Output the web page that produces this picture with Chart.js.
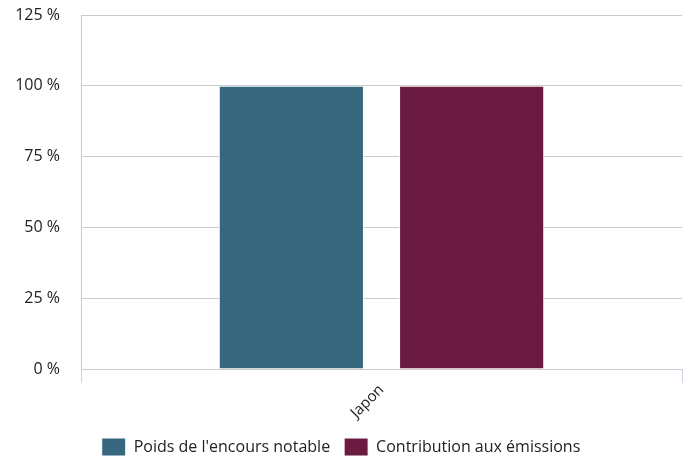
<!DOCTYPE html>
<html>
<head>
<meta charset="utf-8">
<script src="https://cdn.jsdelivr.net/npm/chart.js@4"></script>
<style>
  html, body { margin: 0; padding: 0; background: #fff; overflow: hidden; }
  #wrap { width: 690px; height: 466px; }
</style>
</head>
<body>
<div id="wrap"><canvas id="chart"></canvas></div>
<script>
const categories = ['Japon'];
const poidsEncours = [100];
const contributionEmissions = [100];
const yTicks = [0, 25, 50, 75, 100, 125];

const ctx = document.getElementById('chart').getContext('2d');
const chart = new Chart(ctx, {
    type: 'bar',
    data: {
        labels: categories,
        datasets: [
            {
                label: "Poids de l'encours notable",
                data: poidsEncours,
                backgroundColor: '#37677e',
                borderColor: '#ffffff',
                borderWidth: 1,
                categoryPercentage: 0.6,
                barPercentage: 0.805
            },
            {
                label: 'Contribution aux émissions',
                data: contributionEmissions,
                backgroundColor: '#6b1a40',
                borderColor: '#ffffff',
                borderWidth: 1,
                categoryPercentage: 0.6,
                barPercentage: 0.805
            }
        ]
    },
    options: {
        responsive: true,
        maintainAspectRatio: false,
        animation: false,
        layout: { padding: { top: 15, right: 8, left: 0, bottom: 0 } },
        plugins: {
            tooltip: { enabled: false },
            legend: {
                position: 'bottom',
                labels: {
                    color: '#222',
                    font: { family: 'Open Sans', size: 16 },
                    boxWidth: 24,
                    boxHeight: 18,
                    padding: 14
                }
            }
        },
        scales: {
            x: {
                afterFit: (axis) => { axis.height = 55; },
                grid: {
                    display: true,
                    drawOnChartArea: false,
                    drawTicks: true,
                    tickLength: 14,
                    color: '#ccd6eb'
                },
                border: { display: false },
                ticks: {
                    color: '#222',
                    font: { family: 'Open Sans', size: 15 },
                    minRotation: 45,
                    maxRotation: 45,
                    padding: -2
                }
            },
            y: {
                min: 0,
                max: 125,
                afterBuildTicks: (axis) => {
                    axis.ticks = yTicks.map(v => ({ value: v }));
                },
                afterFit: (axis) => { axis.width = 81; },
                grid: {
                    color: '#cbcbcb',
                    drawTicks: true,
                    tickLength: 20,
                    tickColor: 'rgba(0,0,0,0)'
                },
                border: { display: true, color: '#cbcbcb' },
                ticks: {
                    color: '#222',
                    font: { family: 'Open Sans', size: 16 },
                    padding: 1,
                    callback: (v) => v + ' %'
                }
            }
        }
    }
});
</script>
</body>
</html>
